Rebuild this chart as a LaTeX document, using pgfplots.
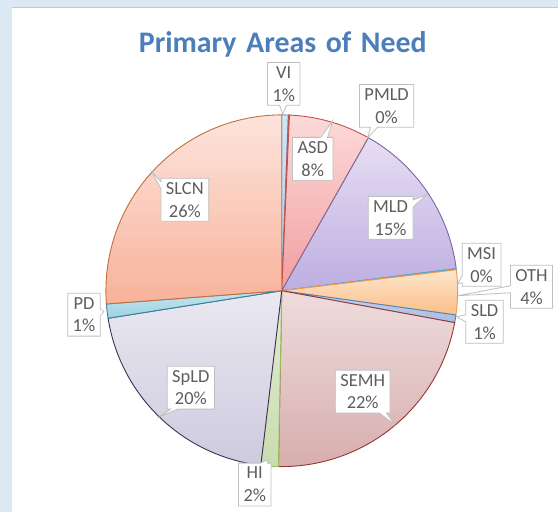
\documentclass[border=0pt]{standalone}
\usepackage{fontspec}
\setmainfont{Carlito}
\usepackage{pgfplots}
\pgfplotsset{compat=1.18}
\usetikzlibrary{shapes.callouts}
\definecolor{bgblue}{HTML}{DDE8F5}
\definecolor{titleblue}{HTML}{4D7EBC}
\definecolor{labgray}{HTML}{5E5E5E}
\definecolor{boxgray}{HTML}{BFBFBF}
\definecolor{viT}{HTML}{D0E6F4}\definecolor{viB}{HTML}{A8D0EC}\definecolor{viE}{HTML}{5B9BD5}
\definecolor{asdT}{HTML}{FCDADA}\definecolor{asdB}{HTML}{F29E9E}\definecolor{asdE}{HTML}{C0504D}
\definecolor{mldT}{HTML}{E6DEF3}\definecolor{mldB}{HTML}{BDAEE0}\definecolor{mldE}{HTML}{8064A2}
\definecolor{msiT}{HTML}{C4E4EE}\definecolor{msiB}{HTML}{A0D2E2}\definecolor{msiE}{HTML}{4BACC6}
\definecolor{othT}{HTML}{FDE6CC}\definecolor{othB}{HTML}{FBBE88}\definecolor{othE}{HTML}{F79646}
\definecolor{sldT}{HTML}{C8D4EC}\definecolor{sldB}{HTML}{A8BCE0}\definecolor{sldE}{HTML}{4F81BD}
\definecolor{semT}{HTML}{EEDCDC}\definecolor{semB}{HTML}{D8AEAE}\definecolor{semE}{HTML}{943634}
\definecolor{hiT}{HTML}{E2ECD2}\definecolor{hiB}{HTML}{C8DCB0}\definecolor{hiE}{HTML}{9BBB59}
\definecolor{spT}{HTML}{EAE8F1}\definecolor{spB}{HTML}{CECADF}\definecolor{spE}{HTML}{3F3151}
\definecolor{pdT}{HTML}{C4E4EE}\definecolor{pdB}{HTML}{A0D2E2}\definecolor{pdE}{HTML}{31859C}
\definecolor{slT}{HTML}{FDE4DC}\definecolor{slB}{HTML}{F8B29A}\definecolor{slE}{HTML}{C0703A}
\tikzset{lab/.style={rectangle callout, draw=boxgray, line width=0.8pt, fill=white,
    text=labgray, font=\fontsize{18.5}{23}\selectfont, align=center,
    inner xsep=5bp, inner ysep=4bp, callout pointer width=7bp}}
% slice boundaries in percent (cumulative, clockwise from 12 o'clock)
% VI 0.6, PMLD 0.1, ASD 7.5, MLD 14.8, MSI 0.1, OTH 4.1, SLD 0.7,
% SEMH 22.4, HI 1.6, SpLD 20.6, PD 1.3, SLCN 26.2
\newcommand{\slice}[5]{%
  \addplot[draw=#5, line width=0.9pt, top color=#3, bottom color=#4,
    domain=#1:#2, samples=60, variable=\t]
    ({282+176*sin(3.6*\t)},{221+176*cos(3.6*\t)}) -- (axis cs:282,221) -- cycle;
}
\newcommand{\titletext}{{\spaceskip=0.32em\relax Primary Areas of Need}}
\begin{document}
\begin{tikzpicture}
\begin{axis}[
  width=558bp, height=512bp, scale only axis,
  xmin=0, xmax=558, ymin=0, ymax=512,
  hide axis, clip=false,
]
\fill[bgblue] (axis cs:0,0) rectangle (axis cs:558,512);
\fill[white] (axis cs:12,0) rectangle (axis cs:558,504);
\draw[black!22, line width=1pt] (axis cs:12,504) -- (axis cs:558,504);

\slice{0}{0.6}{viT}{viB}{viE}
\slice{0.6}{0.7}{asdT}{asdB}{asdE}
\slice{0.7}{8.2}{asdT}{asdB}{asdE}
\slice{8.2}{23.0}{mldT}{mldB}{mldE}
\slice{23.0}{23.1}{msiT}{msiB}{msiE}
\slice{23.1}{27.2}{othT}{othB}{othE}
\slice{27.2}{27.9}{sldT}{sldB}{sldE}
\slice{27.9}{50.3}{semT}{semB}{semE}
\slice{50.3}{51.9}{hiT}{hiB}{hiE}
\slice{51.9}{72.5}{spT}{spB}{spE}
\slice{72.5}{73.8}{pdT}{pdB}{pdE}
\slice{73.8}{100}{slT}{slB}{slE}

\node[font=\fontsize{30}{32}\selectfont\bfseries, text=titleblue] at (axis cs:283,468) {\titletext};

\node[lab, callout absolute pointer={(axis cs:283,398)}] at (axis cs:284,428) {VI\\1\%};
\node[lab, callout absolute pointer={(axis cs:368,374)}] at (axis cs:387,406) {PMLD\\0\%};
\node[lab, callout absolute pointer={(axis cs:333,391)}] at (axis cs:313,353) {ASD\\8\%};
\node[lab, callout absolute pointer={(axis cs:427,317)}] at (axis cs:391,294) {MLD\\15\%};
\node[lab, callout absolute pointer={(axis cs:152,340)}] at (axis cs:185,312) {SLCN\\26\%};
\node[lab, callout absolute pointer={(axis cs:458,228)}] at (axis cs:482,247) {MSI\\0\%};
\node[lab, callout absolute pointer={(axis cs:458,216)}] at (axis cs:532,225) {OTH\\4\%};
\node[lab, callout absolute pointer={(axis cs:457,195)}] at (axis cs:485,190) {SLD\\1\%};
\node[lab, callout absolute pointer={(axis cs:104,200)}] at (axis cs:84,197) {PD\\1\%};
\node[lab, callout absolute pointer={(axis cs:160,95)}] at (axis cs:191,124) {SpLD\\20\%};
\node[lab, callout absolute pointer={(axis cs:395,87)}] at (axis cs:363,120) {SEMH\\22\%};
\node[lab, callout absolute pointer={(axis cs:268,52)}] at (axis cs:255,27) {HI\\2\%};
\end{axis}
\end{tikzpicture}
\end{document}
